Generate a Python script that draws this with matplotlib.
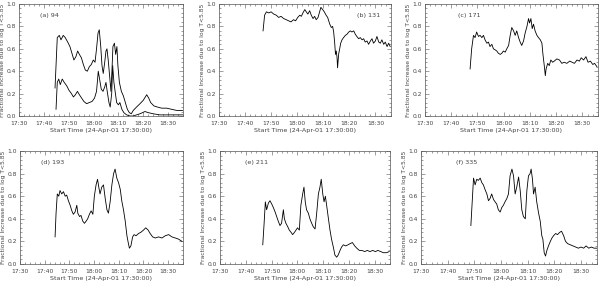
import matplotlib
matplotlib.use("Agg")
import matplotlib.pyplot as plt
from matplotlib.ticker import MultipleLocator, FixedLocator

# time in minutes after 17:30:00
tick_minutes = [0, 10, 20, 30, 40, 50, 60]
tick_labels = ["17:30", "17:40", "17:50", "18:00", "18:10", "18:20", "18:30"]

a_up_t = [14.5, 15.4, 16.2, 16.9, 17.8, 18.6, 19.6, 20.5, 21.3, 22.1, 22.9, 23.6, 24.3, 25.1, 25.9, 26.7, 27.5, 28.3, 29.1, 29.9, 30.6, 31.2, 31.8, 32.3, 32.9, 33.4, 33.9, 34.5, 35.0, 35.4, 35.9, 36.5, 37.0, 37.4, 37.8, 38.4, 38.9, 39.4, 39.8, 40.4, 41.2, 42.0, 42.8, 43.6, 44.4, 45.2, 46.0, 47.3, 48.7, 50.0, 51.4, 52.2, 53.0, 54.3, 55.7, 57.4, 59.4, 61.4, 63.4, 65.8]
a_up_v = [0.25, 0.70, 0.72, 0.68, 0.72, 0.70, 0.66, 0.62, 0.56, 0.50, 0.53, 0.58, 0.55, 0.52, 0.46, 0.41, 0.40, 0.44, 0.46, 0.50, 0.48, 0.60, 0.74, 0.77, 0.62, 0.45, 0.38, 0.48, 0.58, 0.60, 0.50, 0.35, 0.22, 0.40, 0.62, 0.65, 0.55, 0.62, 0.45, 0.30, 0.22, 0.18, 0.12, 0.06, 0.03, 0.02, 0.05, 0.08, 0.11, 0.14, 0.19, 0.16, 0.12, 0.09, 0.08, 0.07, 0.07, 0.06, 0.05, 0.05]

a_lo_t = [14.9, 15.4, 16.0, 16.6, 17.4, 18.2, 19.2, 20.1, 21.1, 21.9, 22.7, 23.5, 24.3, 25.2, 26.1, 27.2, 28.3, 29.4, 30.4, 31.2, 31.9, 32.5, 33.1, 33.8, 34.5, 35.0, 35.5, 36.2, 36.7, 37.3, 37.7, 38.2, 38.8, 39.3, 40.0, 40.6, 41.4, 42.2, 43.3, 44.7, 46.0, 47.3, 48.7, 50.7, 52.0, 54.0, 56.7, 59.4, 65.8]
a_lo_v = [0.06, 0.30, 0.33, 0.28, 0.33, 0.30, 0.27, 0.23, 0.20, 0.17, 0.19, 0.22, 0.19, 0.16, 0.13, 0.11, 0.12, 0.13, 0.16, 0.22, 0.40, 0.32, 0.24, 0.22, 0.26, 0.30, 0.22, 0.12, 0.08, 0.20, 0.45, 0.30, 0.20, 0.12, 0.10, 0.12, 0.06, 0.03, 0.01, 0.00, 0.00, 0.01, 0.02, 0.04, 0.03, 0.02, 0.01, 0.01, 0.01]

b_t = [16.9, 17.5, 18.2, 19.1, 20.0, 21.0, 22.0, 22.9, 23.8, 24.8, 25.8, 26.7, 27.6, 28.6, 29.4, 30.2, 31.0, 31.6, 32.2, 32.9, 33.5, 34.1, 34.8, 35.4, 36.1, 36.7, 37.3, 38.0, 38.6, 39.1, 39.8, 40.4, 41.1, 41.7, 42.5, 43.1, 43.6, 44.0, 44.4, 44.7, 45.0, 45.3, 45.5, 45.9, 46.3, 46.7, 47.2, 47.8, 48.5, 49.1, 49.8, 50.4, 51.0, 51.7, 52.3, 52.9, 53.6, 54.2, 54.9, 55.5, 56.1, 56.8, 57.4, 58.1, 58.7, 59.3, 60.0, 60.6, 61.3, 61.9, 62.5, 63.2, 63.8, 64.5, 65.1, 65.7]
b_v = [0.76, 0.90, 0.93, 0.92, 0.93, 0.91, 0.90, 0.88, 0.89, 0.87, 0.86, 0.85, 0.84, 0.86, 0.85, 0.88, 0.90, 0.89, 0.92, 0.95, 0.93, 0.91, 0.94, 0.90, 0.87, 0.89, 0.86, 0.88, 0.93, 0.97, 0.95, 0.93, 0.90, 0.88, 0.82, 0.79, 0.80, 0.75, 0.65, 0.55, 0.58, 0.52, 0.43, 0.55, 0.60, 0.65, 0.68, 0.70, 0.72, 0.73, 0.75, 0.76, 0.75, 0.76, 0.73, 0.71, 0.69, 0.70, 0.68, 0.69, 0.66, 0.67, 0.64, 0.67, 0.69, 0.65, 0.67, 0.71, 0.66, 0.65, 0.68, 0.64, 0.66, 0.62, 0.65, 0.62]

c_t = [17.2, 17.8, 18.5, 19.1, 19.7, 20.4, 21.0, 21.7, 22.3, 22.9, 23.6, 24.2, 24.8, 25.5, 26.1, 26.8, 27.4, 28.0, 28.7, 29.3, 29.9, 30.6, 31.2, 31.9, 32.5, 33.1, 33.8, 34.4, 35.0, 35.7, 36.3, 36.9, 37.6, 38.2, 38.9, 39.5, 39.9, 40.4, 40.9, 41.4, 42.0, 42.7, 43.3, 44.0, 44.6, 45.0, 45.5, 45.9, 46.2, 46.8, 47.4, 48.0, 48.7, 49.3, 50.3, 51.3, 52.2, 53.1, 54.1, 55.2, 56.1, 57.0, 58.0, 58.9, 59.6, 60.5, 61.4, 62.2, 63.1, 64.0, 64.7, 65.6]
c_v = [0.42, 0.60, 0.72, 0.70, 0.75, 0.71, 0.72, 0.70, 0.72, 0.68, 0.65, 0.66, 0.62, 0.64, 0.60, 0.59, 0.58, 0.56, 0.55, 0.56, 0.58, 0.57, 0.60, 0.63, 0.72, 0.79, 0.76, 0.72, 0.76, 0.70, 0.66, 0.63, 0.67, 0.74, 0.80, 0.87, 0.83, 0.87, 0.78, 0.82, 0.76, 0.72, 0.70, 0.68, 0.65, 0.55, 0.45, 0.36, 0.42, 0.47, 0.45, 0.50, 0.48, 0.49, 0.51, 0.50, 0.47, 0.48, 0.47, 0.49, 0.48, 0.47, 0.50, 0.49, 0.52, 0.50, 0.53, 0.48, 0.49, 0.46, 0.47, 0.44]

d_t = [14.2, 14.6, 15.1, 15.7, 16.2, 16.9, 17.6, 18.3, 18.9, 19.6, 20.3, 21.0, 21.6, 22.3, 23.0, 23.4, 24.1, 24.7, 25.4, 26.1, 26.8, 27.4, 28.1, 28.8, 29.5, 30.1, 30.8, 31.4, 31.9, 32.4, 33.1, 33.8, 34.5, 35.2, 35.8, 36.5, 37.2, 37.9, 38.5, 39.2, 39.9, 40.6, 41.2, 41.9, 42.6, 43.3, 43.9, 44.3, 44.9, 45.6, 46.2, 47.0, 48.0, 48.9, 50.0, 50.9, 51.9, 52.7, 53.7, 54.8, 56.1, 57.5, 58.8, 60.2, 61.5, 62.9, 64.2, 65.6]
d_v = [0.24, 0.45, 0.62, 0.60, 0.65, 0.62, 0.64, 0.60, 0.61, 0.56, 0.52, 0.47, 0.44, 0.46, 0.52, 0.45, 0.42, 0.43, 0.38, 0.36, 0.38, 0.40, 0.44, 0.47, 0.44, 0.60, 0.70, 0.75, 0.68, 0.62, 0.68, 0.70, 0.58, 0.48, 0.45, 0.55, 0.70, 0.80, 0.84, 0.76, 0.72, 0.66, 0.56, 0.48, 0.38, 0.25, 0.18, 0.14, 0.16, 0.24, 0.26, 0.25, 0.27, 0.28, 0.30, 0.32, 0.30, 0.27, 0.24, 0.23, 0.24, 0.23, 0.25, 0.26, 0.24, 0.23, 0.22, 0.20]

e_t = [16.6, 17.1, 17.6, 18.1, 18.8, 19.4, 20.1, 20.7, 21.4, 22.0, 22.6, 23.3, 23.9, 24.6, 25.0, 25.6, 26.3, 26.9, 27.6, 28.2, 28.9, 29.5, 30.1, 30.8, 31.4, 32.1, 32.6, 33.1, 33.6, 34.3, 34.9, 35.6, 36.2, 36.9, 37.5, 38.2, 38.8, 39.3, 39.9, 40.4, 40.9, 41.4, 42.1, 42.7, 43.3, 44.0, 44.6, 45.3, 45.9, 46.6, 47.2, 47.9, 48.8, 49.7, 50.5, 51.4, 52.3, 53.1, 54.1, 55.1, 56.2, 57.2, 58.2, 59.3, 60.3, 61.3, 62.4, 63.4, 64.7, 65.7]
e_v = [0.17, 0.35, 0.55, 0.48, 0.54, 0.56, 0.53, 0.50, 0.46, 0.42, 0.38, 0.34, 0.36, 0.48, 0.40, 0.36, 0.33, 0.30, 0.28, 0.26, 0.28, 0.30, 0.32, 0.30, 0.52, 0.62, 0.68, 0.55, 0.48, 0.45, 0.40, 0.36, 0.33, 0.31, 0.44, 0.62, 0.68, 0.75, 0.62, 0.55, 0.60, 0.52, 0.40, 0.30, 0.22, 0.15, 0.08, 0.06, 0.08, 0.12, 0.15, 0.17, 0.16, 0.17, 0.18, 0.19, 0.16, 0.14, 0.12, 0.12, 0.11, 0.12, 0.11, 0.12, 0.11, 0.12, 0.11, 0.10, 0.10, 0.11]

f_t = [18.7, 19.2, 19.7, 20.3, 20.9, 21.5, 22.2, 22.8, 23.4, 24.0, 24.7, 25.3, 25.9, 26.5, 27.2, 27.8, 28.4, 29.0, 29.7, 30.3, 30.9, 31.5, 32.2, 32.8, 33.4, 34.1, 34.7, 35.3, 35.9, 36.6, 37.2, 37.8, 38.4, 39.1, 39.7, 40.3, 40.9, 41.3, 41.8, 42.2, 42.8, 43.4, 44.1, 44.7, 45.3, 45.7, 46.2, 46.7, 47.2, 47.8, 48.5, 49.1, 49.7, 50.5, 51.2, 52.0, 52.7, 53.5, 54.2, 55.0, 56.0, 57.0, 58.0, 59.0, 60.0, 61.0, 61.9, 62.9, 63.9, 64.9, 66.0]
f_v = [0.34, 0.55, 0.76, 0.70, 0.75, 0.74, 0.76, 0.72, 0.70, 0.66, 0.62, 0.56, 0.58, 0.62, 0.57, 0.55, 0.53, 0.48, 0.46, 0.50, 0.52, 0.55, 0.58, 0.62, 0.78, 0.84, 0.78, 0.62, 0.68, 0.77, 0.65, 0.48, 0.42, 0.40, 0.65, 0.78, 0.80, 0.84, 0.75, 0.62, 0.68, 0.55, 0.45, 0.38, 0.25, 0.22, 0.10, 0.07, 0.12, 0.16, 0.20, 0.23, 0.25, 0.27, 0.26, 0.28, 0.29, 0.25, 0.20, 0.18, 0.17, 0.16, 0.15, 0.14, 0.15, 0.14, 0.16, 0.14, 0.15, 0.14, 0.14]

panel_labels = ["(a) 94", "(b) 131", "(c) 171", "(d) 193", "(e) 211", "(f) 335"]
ylabel_text = "Fractional Increase due to log T<5.85"
xlabel_text = "Start Time (24-Apr-01 17:30:00)"

W, H = 600, 282
fig = plt.figure(figsize=(W / 100, H / 100), dpi=100)
plt.rcParams['font.family'] = ['DejaVu Sans']

# pixel boxes: left, right, top, bottom
boxes = [
    (19, 183, 4, 116), (219, 391, 4, 116), (425, 598, 4, 116),
    (20, 183, 151, 264), (220, 390, 151, 264), (421, 597, 151, 264),
]
label_pos = [(0.13, 0.90, 'left'), (0.80, 0.90, 'left'), (0.19, 0.90, 'left'),
             (0.13, 0.90, 'left'), (0.15, 0.90, 'left'), (0.20, 0.90, 'left')]
series = [
    [(a_up_t, a_up_v), (a_lo_t, a_lo_v)],
    [(b_t, b_v)], [(c_t, c_v)], [(d_t, d_v)], [(e_t, e_v)], [(f_t, f_v)],
]
txtc = '#444444'
fs = 4.3
for i, (l, r, t, b) in enumerate(boxes):
    ax = fig.add_axes([l / W, 1 - b / H, (r - l) / W, (b - t) / H])
    for xs, ys in series[i]:
        ax.plot(xs, ys, color='black', lw=0.6)
    ax.set_xlim(0, 66)
    ax.set_ylim(0, 1.0)
    ax.xaxis.set_major_locator(FixedLocator(tick_minutes))
    ax.set_xticklabels(tick_labels)
    ax.xaxis.set_minor_locator(MultipleLocator(2))
    ax.yaxis.set_major_locator(MultipleLocator(0.2))
    ax.yaxis.set_minor_locator(MultipleLocator(0.04))
    ax.yaxis.set_major_formatter(matplotlib.ticker.FormatStrFormatter('%.1f'))
    ax.tick_params(which='both', direction='in', top=True, right=True,
                   labelsize=fs, labelcolor=txtc, width=0.4, color='#555555')
    ax.tick_params(which='major', length=3)
    ax.tick_params(axis='x', which='major', pad=3.5)
    ax.tick_params(axis='y', which='major', pad=2)
    ax.tick_params(which='minor', length=1.5)
    for s in ax.spines.values():
        s.set_linewidth(0.5)
        s.set_color('#555555')
    ax.set_xlabel(xlabel_text, fontsize=fs + 0.3, color=txtc, labelpad=1.5)
    ax.set_ylabel(ylabel_text, fontsize=fs, color=txtc, labelpad=1.5)
    x0, y0, ha = label_pos[i]
    ax.text(x0, y0, panel_labels[i], transform=ax.transAxes, fontsize=fs + 0.3,
            color=txtc, ha=ha, va='center')

fig.savefig('out.png', dpi=100)
